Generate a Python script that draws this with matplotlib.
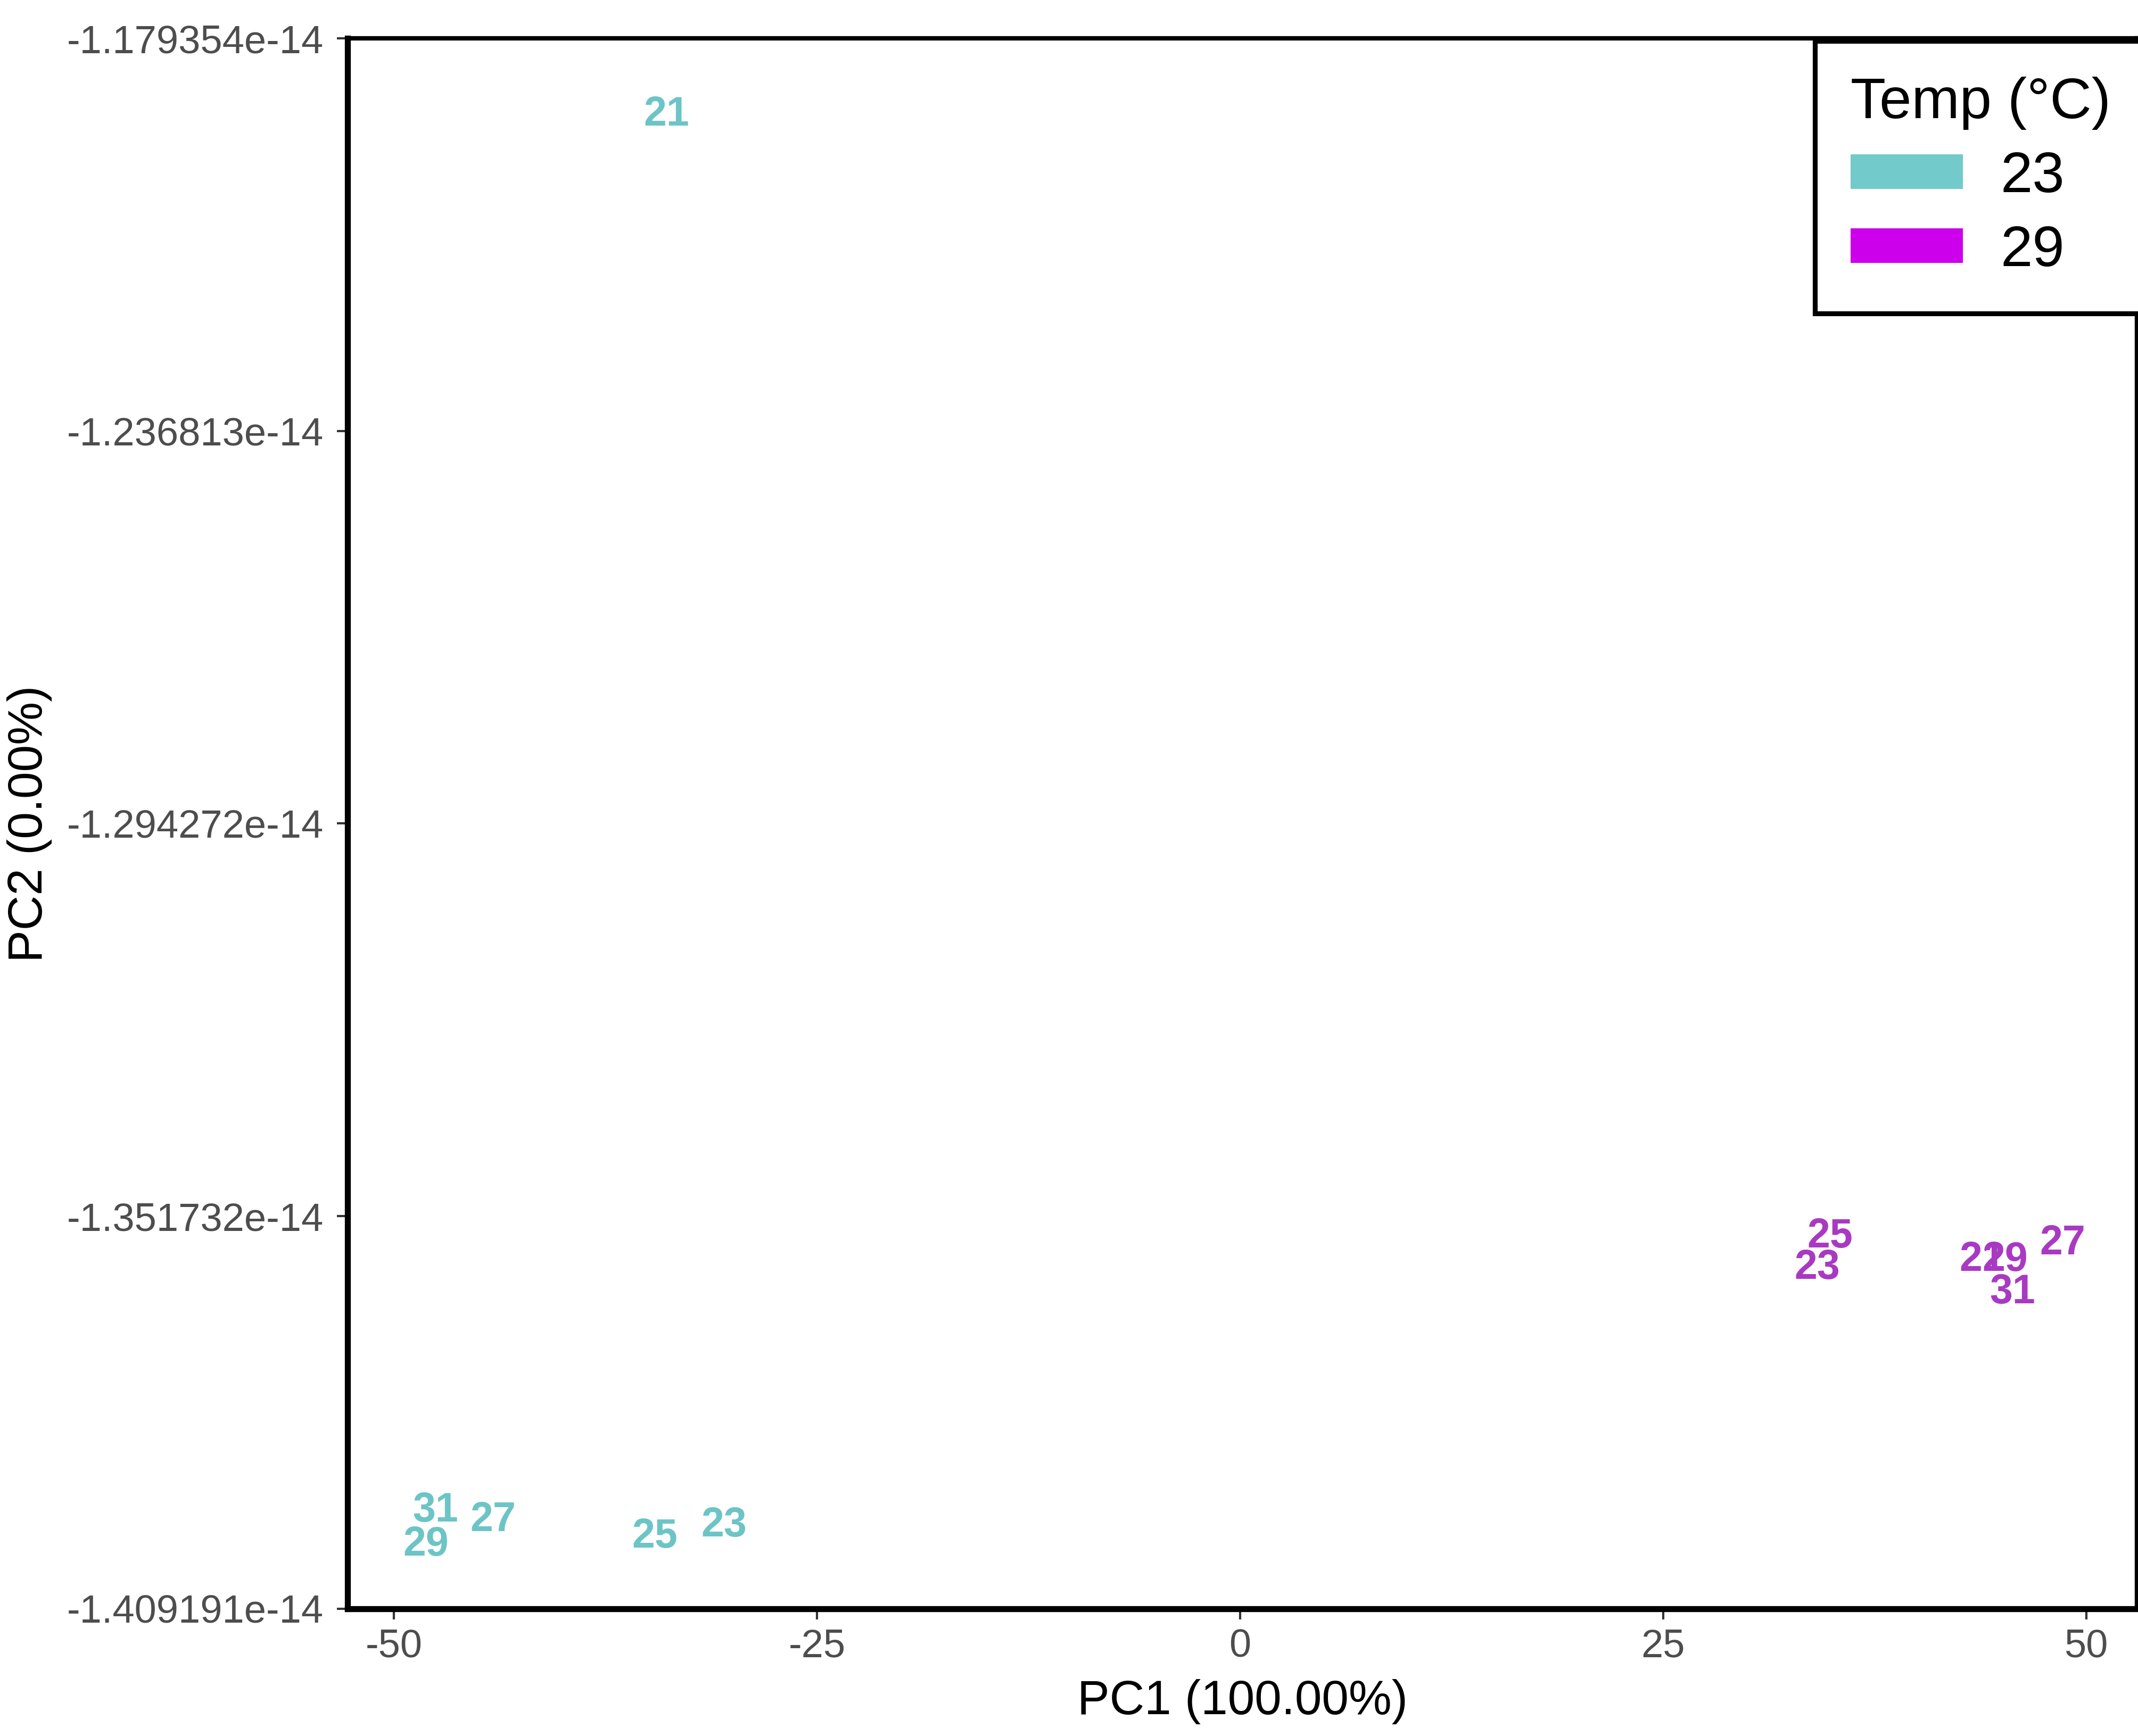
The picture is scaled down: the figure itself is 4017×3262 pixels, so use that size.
import matplotlib
matplotlib.use("Agg")
import matplotlib.pyplot as plt
from matplotlib.patches import Patch
from matplotlib.ticker import FixedLocator

plt.rcParams['font.family'] = ['Liberation Sans', 'DejaVu Sans']

# Sample labels and PCA scores
cold_labels = ['21', '31', '29', '27', '25', '23']
cold_pc1 = [-33.9, -47.55, -48.1, -44.15, -34.6, -30.5]
cold_pc2 = [-1.190527e-14, -1.394828e-14, -1.399816e-14, -1.396225e-14, -1.398619e-14, -1.397023e-14]

warm_labels = ['25', '23', '21', '29', '27', '31']
warm_pc1 = [34.85, 34.1, 43.85, 45.2, 48.6, 45.65]
warm_pc2 = [-1.354725e-14, -1.359314e-14, -1.358117e-14, -1.358117e-14, -1.355723e-14, -1.362905e-14]

groups = ['23', '29']
x_ticks = [-50, -25, 0, 25, 50]
y_ticks = [-1.409191e-14, -1.351732e-14, -1.294272e-14, -1.236813e-14, -1.179354e-14]
y_tick_labels = ['-1.409191e-14', '-1.351732e-14', '-1.294272e-14', '-1.236813e-14', '-1.179354e-14']

key_colors = ['#72CACA', '#CC00EA']
text_colors = ['#6DC4C6', '#A83AC2']

W, H = 4017, 3262
fig = plt.figure(figsize=(W / 300, H / 300), dpi=300)
ax = fig.add_axes([653 / W, 1 - 3023 / H, (4015 - 653) / W, (3023 - 72) / H])

for xs, ys, labs, col in [(cold_pc1, cold_pc2, cold_labels, text_colors[0]),
                          (warm_pc1, warm_pc2, warm_labels, text_colors[1])]:
    for x, y, lab in zip(xs, ys, labs):
        ax.text(x, y, lab, ha='center', va='center', color=col,
                fontsize=18.5, fontweight='bold')

ax.set_xlim(-52.74, 53.0)
ax.set_ylim(y_ticks[0], y_ticks[-1])
ax.xaxis.set_major_locator(FixedLocator(x_ticks))
ax.set_xticklabels([str(t) for t in x_ticks])
ax.yaxis.set_major_locator(FixedLocator(y_ticks))
ax.set_yticklabels(y_tick_labels)

ax.tick_params(axis='both', length=4.8, width=1.0, color='#333333',
               labelsize=17.8, labelcolor='#4D4D4D')
ax.tick_params(axis='y', pad=6.0)
ax.tick_params(axis='x', pad=4.0)

for side in ['left', 'bottom']:
    ax.spines[side].set_linewidth(2.7)
for side in ['top', 'right']:
    ax.spines[side].set_linewidth(2.0)

ax.set_xlabel('PC1 (100.00%)', fontsize=21.8, va='center')
ax.set_ylabel('PC2 (0.00%)', fontsize=21.8, va='center')
ax.xaxis.set_label_coords(0.5, (3023 - 3197) / (3023 - 72))
ax.yaxis.set_label_coords((56 - 653) / (4015 - 653), 0.5)

handles = [Patch(facecolor=c, edgecolor='none', label=g) for g, c in zip(groups, key_colors)]
leg = ax.legend(handles=handles, title='Temp (°C)', loc='upper left',
                bbox_to_anchor=(3410 / W, 1 - 77 / H), bbox_transform=fig.transFigure,
                fontsize=26, title_fontsize=26, alignment='left',
                frameon=True, fancybox=False, framealpha=1, edgecolor='black',
                borderpad=0.62, handlelength=1.95, handleheight=0.55,
                handletextpad=0.65, labelspacing=0.36, borderaxespad=0)
leg.get_frame().set_linewidth(2.2)

fig.savefig('out.png', dpi=300)
